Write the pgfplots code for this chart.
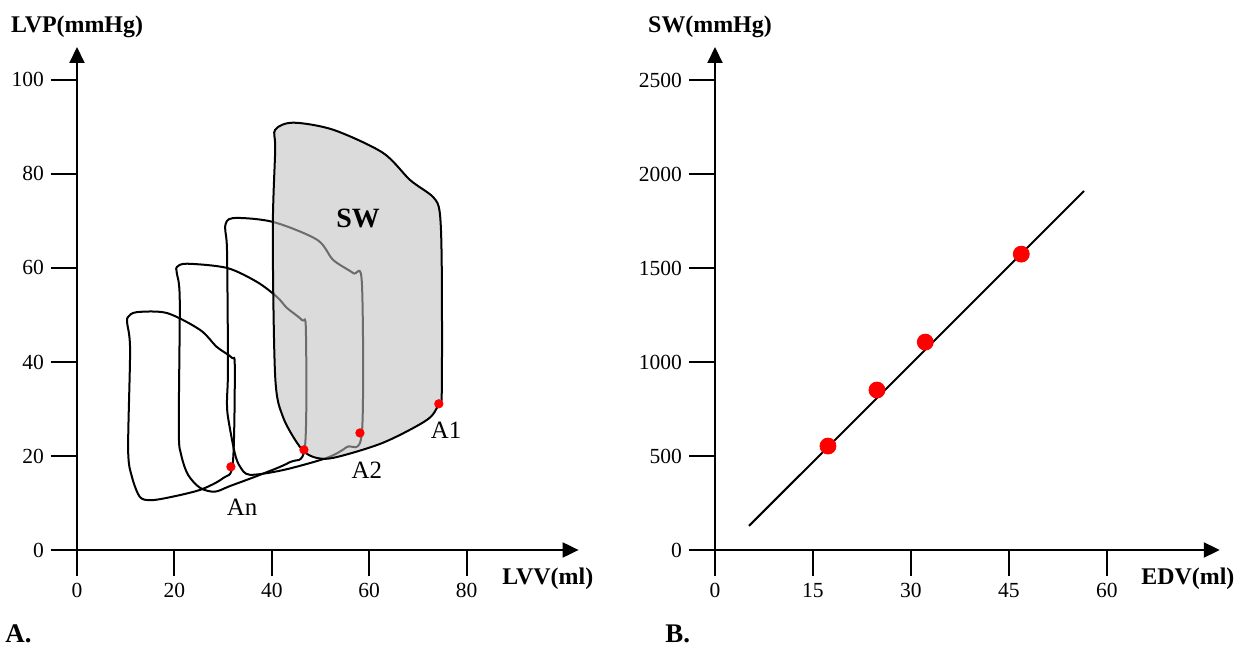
\documentclass[border=0pt]{standalone}
\usepackage{fontspec}
\setmainfont{Liberation Serif}
\usepackage{pgfplots}
\pgfplotsset{compat=1.18}
\usetikzlibrary{arrows.meta}
\pgfplotsset{
  myaxis/.style={
    scale only axis,
    axis lines=left,
    clip=false,
    xmin=0, ymin=0,
    tick align=outside,
    major tick length=13bp,
    tick style={line width=1bp, black},
    axis line style={line width=1bp, -{Triangle[length=8bp,width=7.5bp]}},
    /pgf/number format/assume math mode=true,
    /pgf/number format/1000 sep={},
    scaled ticks=false,
    tick label style={font=\fontsize{10.8}{12}\selectfont},
    every axis y label/.style={at={(rel axis cs:0,1)}, anchor=base, yshift=7bp, font=\bfseries\fontsize{12}{14}\selectfont},
    every axis x label/.style={at={(rel axis cs:1,0)}, anchor=north east, inner sep=0pt, xshift=7.5bp, yshift=-9bp, font=\bfseries\fontsize{12}{14}\selectfont},
  }
}
\begin{document}
\begin{tikzpicture}
\path[use as bounding box] (0,0) rectangle (622.5bp,323bp);
% ---------- Panel A ----------
\begin{axis}[myaxis,
  at={(38.5bp,48bp)}, anchor=south west,
  width=250.8bp, height=251.5bp,
  xmax=103, ymax=107,
  xtick={0,20,40,60,80}, ytick={0,20,40,60,80,100},
  xlabel={LVV(ml)}, ylabel={LVP(mmHg)},
]
% loop An
\addplot[black, line width=1bp, smooth cycle, tension=0.5] coordinates {
(10.5,49.6) (12.3,50.6) (18.5,50.4) (25.3,46.8) (28.7,43.2) (31.8,40.9) (32.4,38.9)
(32.0,18.5) (30.0,15.3) (25.3,12.8) (18.5,11.1) (15.0,10.6) (12.9,11.3) (11.3,15.5)
(10.5,21.3) (10.9,42.6) (10.3,48.3)};
% loop A3
\addplot[black, line width=1bp, smooth cycle, tension=0.5] coordinates {
(20.5,60.2) (22.6,60.9) (30.8,60.0) (37.0,57.0) (41.1,53.8) (43.1,51.5) (46.2,48.9) (47.0,46.8)
(46.8,21.9) (43.7,18.7) (37.6,16.0) (31.4,13.6) (28.3,12.4) (25.3,13.2) (22.8,16.0) (21.4,20.2)
(20.9,25.5) (21.1,53.2) (20.5,58.9)};
% loop A2
\addplot[black, line width=1bp, smooth cycle, tension=0.5] coordinates {
(30.4,68.7) (32.0,70.6) (40.2,69.8) (49.3,66.0) (52.6,61.7) (56.7,58.9) (58.5,56.8)
(58.5,24.9) (55.4,21.9) (51.3,19.6) (42.3,17.0) (35.5,16.0) (33.5,17.7) (32.4,20.6)
(31.0,28.3) (30.8,31.9) (31.0,38.9) (30.8,63.8)};
% loop A1 (stroke work, shaded)
\addplot[draw=black, line width=1bp, fill=gray!50, fill opacity=0.57, smooth cycle, tension=0.5] coordinates {
(40.7,89.4) (44.4,90.9) (52.6,89.4) (62.8,84.5) (68.4,78.7) (73.1,75.1) (74.5,71.7)
(74.9,60.2) (74.9,33.4) (74.3,31.1) (71.9,27.7) (62.8,22.8) (52.6,19.6) (48.5,19.8)
(45.8,21.9) (42.3,28.3) (40.7,36.8) (40.2,67.4) (40.7,85.1)};
% end-diastolic points
\addplot[only marks, mark=*, mark size=2.1bp, mark options={draw=red, fill=red}] coordinates {
(74.3,31.1) (58.1,24.9) (46.6,21.3) (31.6,17.7)};
\node[font=\bfseries\fontsize{14}{16}\selectfont] at (axis cs:57.7,70.6) {SW};
\node[font=\fontsize{12.5}{14}\selectfont] at (axis cs:75.8,25.5) {A1};
\node[font=\fontsize{12.5}{14}\selectfont] at (axis cs:59.5,17.0) {A2};
\node[font=\fontsize{12.5}{14}\selectfont] at (axis cs:33.9,9.1) {An};
\node[font=\bfseries\fontsize{13.5}{15}\selectfont, anchor=base west, inner sep=0pt] at (rel axis cs:0,0) [xshift=-36bp, yshift=-46.3bp] {A.};
\end{axis}
% ---------- Panel B ----------
\begin{axis}[myaxis,
  at={(357.5bp,48bp)}, anchor=south west,
  width=252.4bp, height=251.5bp,
  xmax=77.3, ymax=2676,
  xtick={0,15,30,45,60}, ytick={0,500,1000,1500,2000,2500},
  xlabel={EDV(ml)}, ylabel={SW(mmHg)},
  y label style={xshift=-2.5bp},
]
\addplot[black, line width=1bp] coordinates {(5.2,128) (56.5,1910)};
\addplot[only marks, mark=*, mark size=4bp, mark options={draw=red, fill=red}] coordinates {
(17.3,553) (24.8,851) (32.2,1106) (46.9,1574)};
\node[font=\bfseries\fontsize{13.5}{15}\selectfont, anchor=base west, inner sep=0pt] at (rel axis cs:0,0) [xshift=-25bp, yshift=-46.3bp] {B.};
\end{axis}
\end{tikzpicture}
\end{document}
